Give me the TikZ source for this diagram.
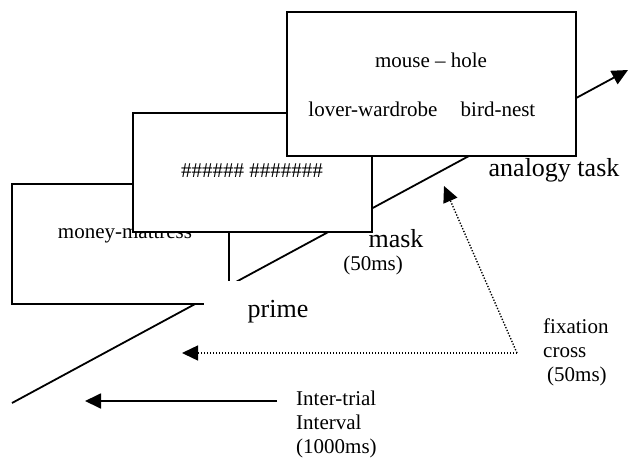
\documentclass[tikz,border=0pt]{standalone}
\usepackage{fontspec}
\setmainfont{Liberation Serif}
\usetikzlibrary{arrows.meta}

\begin{document}
\begin{tikzpicture}[x=1pt, y=-1pt,
    screen/.style={draw, fill=white, line width=1.8pt, inner sep=0pt},
    small/.style={font=\fontsize{21}{24}\selectfont, inner sep=0pt},
    big/.style={font=\fontsize{26}{30}\selectfont, inner sep=0pt},
    tip/.style={-{Triangle[length=16pt,width=15pt]}},
    dots/.style={tip, line width=1.4pt, dash pattern=on 1.3pt off 1.7pt}]
    \useasboundingbox (0,0) rectangle (629,458);

    % time line, behind the screens
    \coordinate (T0) at (12,403);
    \coordinate (T1) at (628,70);
    \draw[tip, line width=1.8pt] (T0) -- (T1);

    % Screen 1: prime
    \node[screen, minimum width=217pt, minimum height=120pt] (S1) at (120.5,244) {};
    \node[small, anchor=base] (P1) at (125,238) {money-mattress};

    % Screen 2: mask
    \node[screen, minimum width=239pt, minimum height=119pt] (S2) at (252.5,172.5) {};
    \node[small, anchor=base] (M1) at (252,177) {\#\#\#\#\#\# \#\#\#\#\#\#\#};

    % Screen 3: analogy task
    \node[screen, minimum width=289pt, minimum height=144pt] (S3) at (431.5,84) {};
    \node[small, anchor=base] (A1) at (431,67) {mouse -- hole};
    \node[small, anchor=base] (A2) at (373,116) {lover-wardrobe};
    \node[small, anchor=base] (A3) at (498,116) {bird-nest};

    % labels
    \node[big, anchor=base, fill=white, inner xsep=44pt, inner ysep=19pt] (prime) at (278,317) {prime};
    \node[big, anchor=base] (mask) at (396,247) {mask};
    \node[small, anchor=base] (maskt) at (373,270) {(50ms)};
    \node[big, anchor=base] (task) at (554,176) {analogy task};
    \node[small, anchor=west, align=left] (fix) at (543,352) {fixation\\cross\\\hspace{4pt}(50ms)};
    \node[small, anchor=west, align=left] (iti) at (296,424) {Inter-trial\\Interval\\(1000ms)};

    % fixation cross arrows
    \coordinate (F0) at (517,353);
    \coordinate (F1) at (182,353);
    \coordinate (F2) at (444,186);
    \draw[dots] (F0) -- (F1);
    \draw[dots] (F0) -- (F2);

    % inter-trial interval arrow
    \coordinate (I0) at (277,401);
    \coordinate (I1) at (85,401);
    \draw[tip, line width=1.8pt] (I0) -- (I1);
\end{tikzpicture}
\end{document}
